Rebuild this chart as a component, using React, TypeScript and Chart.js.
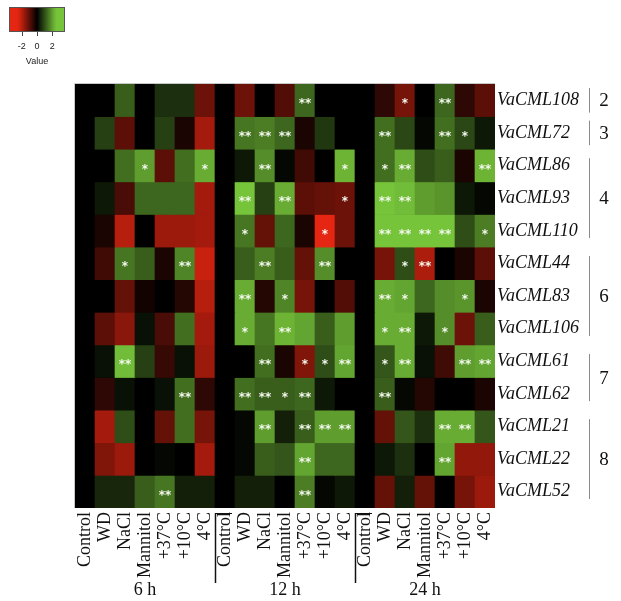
import React, { useEffect, useRef } from 'react';
import { Chart, registerables } from 'chart.js';

Chart.register(...registerables);

const treatments = ['Control', 'WD', 'NaCl', 'Mannitol', '+37°C', '+10°C', '4°C'];
const timePoints = ['6 h', '12 h', '24 h'];
const columns = timePoints.flatMap(() => treatments);

const genes = [
  'VaCML108', 'VaCML72', 'VaCML86', 'VaCML93', 'VaCML110', 'VaCML44', 'VaCML83',
  'VaCML106', 'VaCML61', 'VaCML62', 'VaCML21', 'VaCML22', 'VaCML52',
];

// log2 fold change per gene (rows) and condition (columns: 6 h, 12 h, 24 h x 7 treatments)
const values = [
  [0, 0, 1.2, 0, 0.6, 0.6, -1.2, 0, -1.2, 0, -0.9, 1.3, 0, 0, 0, -0.5, -1.3, 0, 1.3, -0.5, -1.0],
  [0, 0.8, -1.0, 0, 0.8, -0.3, -1.8, 0, 1.5, 1.6, 1.3, -0.3, 0.7, 0, 0, 1.4, 0.9, 0.1, 1.4, 0.9, 0.3],
  [0, 0, 1.4, 2.0, -1.0, 1.4, 2.2, 0, 0.3, 1.8, 0.1, -0.7, 0, 2.3, 0, 1.4, 2.2, 1.0, 1.2, -0.3, 2.3],
  [0, 0.3, -0.8, 1.3, 1.3, 1.3, -1.8, 0, 2.6, 0.8, 2.2, -1.0, -1.1, -1.2, 0, 2.5, 2.4, 2.0, 1.9, 0.3, 0.1],
  [0, -0.3, -2.0, 0, -1.7, -1.7, -1.8, 0, 1.5, -1.1, 1.3, -0.3, -2.6, -1.2, 0, 2.6, 2.5, 2.5, 2.5, 1.0, 1.6],
  [0, -0.7, 1.5, 1.2, -0.3, 1.7, -2.2, 0, 1.2, 1.6, 1.2, -1.1, 1.8, 0, 0, -1.3, 1.0, -1.9, 0, -0.3, -1.0],
  [0, 0, -1.1, -0.2, 0, -0.4, -2.0, 0, 2.2, -0.4, 1.7, -1.3, 0, -0.9, 0, 2.2, 2.1, 1.3, 1.8, 1.9, -0.3],
  [0, -1.0, -1.5, 0.2, -0.8, 1.4, -1.8, 0, 2.2, 1.5, 2.3, 2.1, 1.2, 2.0, 0, 2.2, 2.2, 0.3, 1.8, -1.2, 1.2],
  [0, 0.2, 2.4, 0.8, -0.6, 0.2, -1.7, 0, 0, 1.4, -0.3, -1.4, 1.0, 2.1, 0, 1.1, 2.2, 0.2, -0.7, 2.0, 2.1],
  [0, -0.5, 0.2, 0, 0.2, 1.4, -0.5, 0, 1.4, 1.2, 1.2, 1.3, 0.3, 0, 0, 1.2, 0.1, -0.4, 0, 0, -0.3],
  [0, -1.8, 1.0, 0, -1.1, 1.4, -1.3, 0, 0.1, 2.0, 0.4, 1.2, 2.0, 2.0, 0, -1.1, 1.1, 0.6, 2.2, 2.2, 1.1],
  [0, -1.4, -1.7, 0, 0.1, 0, -1.8, 0, 0.1, 1.2, 1.1, 2.1, 1.3, 1.3, 0, 0.3, 0.6, 0, 2.1, -1.6, -1.6],
  [0, 0.5, 0.5, 1.2, 1.5, 0.4, 0.4, 0, 0.4, 0.4, 0, 1.6, 0.1, 0.3, 0, -1.1, 0.4, -1.1, 0, -1.3, -1.7],
];

// significance marks per gene and condition
const _ = '';
const significance = [
  [_, _, _, _, _, _, _, _, _, _, _, '**', _, _, _, _, '*', _, '**', _, _],
  [_, _, _, _, _, _, _, _, '**', '**', '**', _, _, _, _, '**', _, _, '**', '*', _],
  [_, _, _, '*', _, _, '*', _, _, '**', _, _, _, '*', _, '*', '**', _, _, _, '**'],
  [_, _, _, _, _, _, _, _, '**', _, '**', _, _, '*', _, '**', '**', _, _, _, _],
  [_, _, _, _, _, _, _, _, '*', _, _, _, '*', _, _, '**', '**', '**', '**', _, '*'],
  [_, _, '*', _, _, '**', _, _, _, '**', _, _, '**', _, _, _, '*', '**', _, _, _],
  [_, _, _, _, _, _, _, _, '**', _, '*', _, _, _, _, '**', '*', _, _, '*', _],
  [_, _, _, _, _, _, _, _, '*', _, '**', _, _, _, _, '*', '**', _, '*', _, _],
  [_, _, '**', _, _, _, _, _, _, '**', _, '*', '*', '**', _, '*', '**', _, _, '**', '**'],
  [_, _, _, _, _, '**', _, _, '**', '**', '*', '**', _, _, _, '**', _, _, _, _, _],
  [_, _, _, _, _, _, _, _, _, '**', _, '**', '**', '**', _, _, _, _, '**', '**', _],
  [_, _, _, _, _, _, _, _, _, _, _, '**', _, _, _, _, _, _, '**', _, _],
  [_, _, _, _, '**', _, _, _, _, _, _, '**', _, _, _, _, _, _, _, _, _],
];

// gene subgroups (bracket labels on the right)
const groupLabels = ['2', '3', '4', '6', '7', '8'];
const groupFirstRow = [0, 1, 2, 5, 8, 10];
const groupLastRow = [0, 1, 4, 7, 9, 12];

const legendTicks = [-2, 0, 2];

const RED = [228, 38, 18];
const GREEN = [118, 196, 58];
const SAT = 2.5;

function colorFor(v: number): string {
  const t = Math.min(1, Math.abs(v) / SAT);
  const c = v < 0 ? RED : GREEN;
  return `rgb(${Math.round(c[0] * t)},${Math.round(c[1] * t)},${Math.round(c[2] * t)})`;
}

const SERIF = '"Liberation Serif", "Times New Roman", serif';
const SANS = '"Liberation Sans", Arial, sans-serif';

const heatPlugin = {
  id: 'heatExtras',
  beforeDatasetsDraw(chart: any) {
    const { ctx, chartArea } = chart;
    ctx.save();
    ctx.fillStyle = '#000';
    ctx.fillRect(chartArea.left, chartArea.top, chartArea.right - chartArea.left, chartArea.bottom - chartArea.top);
    ctx.restore();
  },
  afterDatasetsDraw(chart: any) {
    const { ctx, chartArea } = chart;
    const xs = chart.scales.x;
    const ys = chart.scales.y;
    ctx.save();
    // faint frame
    ctx.strokeStyle = '#c8c8c8';
    ctx.lineWidth = 1;
    ctx.beginPath();
    ctx.moveTo(chartArea.left - 0.5, chartArea.bottom);
    ctx.lineTo(chartArea.left - 0.5, chartArea.top - 0.5);
    ctx.lineTo(chartArea.right, chartArea.top - 0.5);
    ctx.stroke();

    // significance stars
    ctx.fillStyle = '#f4f8ee';
    ctx.font = `bold 12px "DejaVu Sans", sans-serif`;
    ctx.textAlign = 'center';
    ctx.textBaseline = 'alphabetic';
    significance.forEach((row, i) => {
      row.forEach((s, j) => {
        if (!s) return;
        const x = xs.getPixelForValue(j);
        const y = ys.getPixelForValue(i + 0.5);
        ctx.fillText(s, x, y + 7);
      });
    });
    ctx.restore();
  },
  afterDraw(chart: any) {
    const { ctx, chartArea } = chart;
    const xs = chart.scales.x;
    const ys = chart.scales.y;
    const n = treatments.length;
    ctx.save();

    // time point labels and separators
    ctx.fillStyle = '#111';
    ctx.font = `18px ${SERIF}`;
    ctx.textAlign = 'center';
    ctx.textBaseline = 'middle';
    timePoints.forEach((tp, g) => {
      const x0 = xs.getPixelForValue(g * n);
      const x1 = xs.getPixelForValue(g * n + n - 1);
      ctx.fillText(tp, (x0 + x1) / 2, 590);
      if (g > 0) {
        const xb = (xs.getPixelForValue(g * n - 1) + x0) / 2;
        ctx.strokeStyle = '#111';
        ctx.lineWidth = 1.5;
        ctx.beginPath();
        ctx.moveTo(xb + 0.5, chartArea.bottom + 5);
        ctx.lineTo(xb + 0.5, 583);
        ctx.stroke();
        ctx.lineWidth = 1;
        ctx.beginPath();
        ctx.moveTo(xb, chartArea.bottom + 5.5);
        ctx.lineTo(xb + 17, chartArea.bottom + 5.5);
        ctx.stroke();
      }
    });

    // group brackets on the right
    const bx = 589.5;
    groupLabels.forEach((lab, k) => {
      const top = ys.getPixelForValue(groupFirstRow[k]);
      const bot = ys.getPixelForValue(groupLastRow[k] + 1);
      const inset = groupFirstRow[k] === groupLastRow[k] ? 4 : 9;
      ctx.strokeStyle = '#8a8a8a';
      ctx.lineWidth = 1;
      ctx.beginPath();
      ctx.moveTo(bx, top + inset);
      ctx.lineTo(bx, bot - inset);
      ctx.stroke();
      ctx.fillStyle = '#111';
      ctx.font = `19px ${SERIF}`;
      ctx.textAlign = 'center';
      ctx.textBaseline = 'middle';
      ctx.fillText(lab, 604, (top + bot) / 2 + 1);
    });

    // colour key
    const lx = 9, ly = 7, lw = 56, lh = 25;
    const vmin = -3.7, vmax = 3.7;
    const grad = ctx.createLinearGradient(lx, 0, lx + lw, 0);
    for (let s = 0; s <= 20; s++) {
      const f = s / 20;
      grad.addColorStop(f, colorFor(vmin + f * (vmax - vmin)));
    }
    ctx.fillStyle = grad;
    ctx.fillRect(lx, ly, lw, lh);
    ctx.strokeStyle = '#555';
    ctx.lineWidth = 1;
    ctx.strokeRect(lx + 0.5, ly + 0.5, lw - 1, lh - 1);
    ctx.fillStyle = '#222';
    ctx.font = `9px ${SANS}`;
    ctx.textAlign = 'center';
    ctx.textBaseline = 'middle';
    legendTicks.forEach((t) => {
      const x = lx + ((t - vmin) / (vmax - vmin)) * lw;
      ctx.strokeStyle = '#444';
      ctx.beginPath();
      ctx.moveTo(Math.round(x) + 0.5, ly + lh);
      ctx.lineTo(Math.round(x) + 0.5, ly + lh + 4);
      ctx.stroke();
      ctx.fillText(String(t), x, 47);
    });
    ctx.fillText('Value', lx + lw / 2, 62);
    ctx.restore();
  },
};

export default function App() {
  const ref = useRef<HTMLCanvasElement>(null);

  useEffect(() => {
    document.body.style.margin = '0';
    const canvas = ref.current;
    if (!canvas) return;
    const datasets = genes.map((g, i) => ({
      label: g,
      data: columns.map(() => [i, i + 1]),
      backgroundColor: values[i].map(colorFor),
      borderWidth: 0,
      barPercentage: 1,
      categoryPercentage: 1,
      grouped: false,
    }));
    const chart = new Chart(canvas, {
      type: 'bar',
      data: { labels: columns, datasets: datasets as any },
      options: {
        responsive: false,
        animation: false,
        devicePixelRatio: 1,
        layout: { padding: { left: 75, top: 84, right: 0, bottom: 0 } },
        plugins: { legend: { display: false }, tooltip: { enabled: false } },
        scales: {
          x: {
            type: 'category',
            grid: { display: false, drawTicks: false },
            border: { display: false },
            ticks: {
              autoSkip: false,
              minRotation: 90,
              maxRotation: 90,
              padding: 4,
              color: '#111',
              font: { family: SERIF, size: 18 },
            },
            afterFit: (s: any) => { s.height = 93; },
          },
          y: {
            type: 'linear',
            position: 'right',
            min: 0,
            max: genes.length,
            reverse: true,
            grid: { display: false, drawTicks: false },
            border: { display: false },
            afterBuildTicks: (s: any) => { s.ticks = genes.map((_g, i) => ({ value: i + 0.5 })); },
            ticks: {
              autoSkip: false,
              padding: 2,
              color: '#111',
              font: { family: SERIF, size: 18, style: 'italic' },
              callback: (_v: any, idx: number) => genes[idx],
            },
            afterFit: (s: any) => { s.width = 126; },
          },
        },
      },
      plugins: [heatPlugin],
    });
    return () => chart.destroy();
  }, []);

  return (
    <div style={{ width: 621, height: 601 }}>
      <canvas ref={ref} width={621} height={601} style={{ display: 'block' }} />
    </div>
  );
}
